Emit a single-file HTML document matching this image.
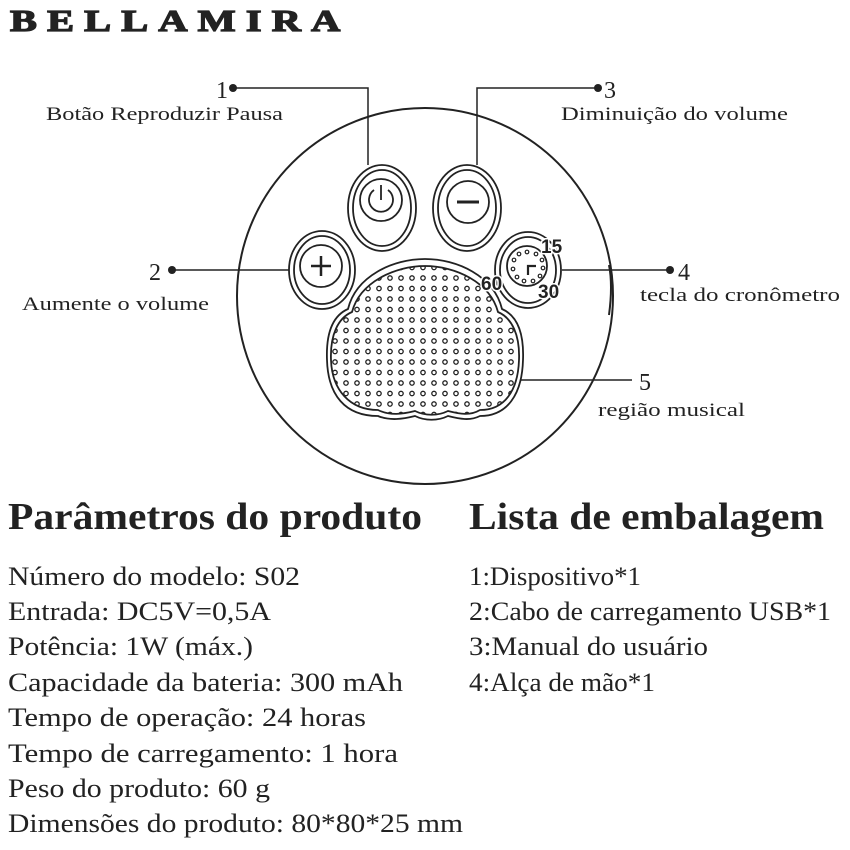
<!DOCTYPE html>
<html><head><meta charset="utf-8"><style>
html,body{margin:0;padding:0;background:#fff}
svg{display:block}
text{font-family:"Liberation Serif",serif;fill:#222}
text.sans{font-family:"Liberation Sans",sans-serif;font-weight:bold}
</style></head><body>
<svg width="850" height="850" viewBox="0 0 850 850" xmlns="http://www.w3.org/2000/svg">
<defs>
<pattern id="dots" x="0" y="0" width="11" height="10.5" patternUnits="userSpaceOnUse">
<circle cx="5" cy="5" r="2.2" fill="none" stroke="#222" stroke-width="1.3"/>
</pattern>
<clipPath id="padclip"><path id="padp" d="M352,312 C360,282 395,266 425,266 C455,266 490,282 498,312 C512,318 520,335 519,360 C518,390 505,410 480,410 C470,416 460,414 448,411 C438,416 425,416 415,411 C403,414 390,416 378,410 C350,410 332,390 331,360 C330,335 338,318 352,312 Z"/></clipPath>
</defs>
<g transform="translate(10,0) scale(1.3,1)">
<text x="0" y="31" font-size="31" font-weight="bold" textLength="254" lengthAdjust="spacing" stroke="#222" stroke-width="1.3">BELLAMIRA</text>
</g>

<circle cx="425" cy="296" r="188" fill="none" stroke="#222" stroke-width="2"/>
<path d="M609,265 Q613,285 609,315" fill="none" stroke="#222" stroke-width="2"/>

<g fill="none" stroke="#222" stroke-width="1.8">
<ellipse cx="382" cy="208" rx="34" ry="43"/>
<ellipse cx="382" cy="208" rx="29" ry="38"/>
<circle cx="381" cy="200" r="21"/>
<path d="M374,190 A12,12 0 1 0 388,190"/>
<path d="M381,185 L381,200"/>
<ellipse cx="467" cy="208" rx="34" ry="43"/>
<ellipse cx="467" cy="208" rx="29" ry="38"/>
<circle cx="468" cy="202" r="21"/>
<path d="M457,202 L479,202" stroke-width="3"/>
<ellipse cx="322" cy="270" rx="33" ry="39"/>
<ellipse cx="322" cy="270" rx="28" ry="34"/>
<circle cx="321" cy="266" r="21"/>
<path d="M311,266 L331,266 M321,256 L321,276" stroke-width="2.5"/>
<ellipse cx="528" cy="270" rx="33" ry="38"/>
<ellipse cx="528" cy="270" rx="28" ry="33"/>
<circle cx="527" cy="266" r="20"/>
<path d="M528,275 L528,266 L536,266" stroke-width="2.2"/>
<path d="M348,309 C356,276 393,259 425,259 C457,259 494,276 502,309 C518,316 524,335 523,360 C522,395 507,416 480,416 C470,421 460,419 448,416 C438,421 425,421 415,416 C403,419 390,421 378,416 C345,416 328,395 327,360 C326,335 332,316 348,309 Z"/>
<use href="#padp"/>
</g>
<g fill="none" stroke="#222" stroke-width="1.2">
<circle cx="527" cy="252" r="1.8"/><circle cx="536" cy="254" r="1.8"/><circle cx="542" cy="260" r="1.8"/><circle cx="543" cy="268" r="1.8"/><circle cx="540" cy="276" r="1.8"/><circle cx="533" cy="281" r="1.8"/><circle cx="524" cy="281" r="1.8"/><circle cx="517" cy="277" r="1.8"/><circle cx="513" cy="269" r="1.8"/><circle cx="514" cy="260" r="1.8"/><circle cx="519" cy="254" r="1.8"/>
</g>
<rect x="330" y="262" width="195" height="160" fill="url(#dots)" clip-path="url(#padclip)"/>
<text class="sans" x="541" y="253" font-size="19" fill="#fff" stroke="#fff" stroke-width="3">15</text>
<text class="sans" x="541" y="253" font-size="19">15</text>
<text class="sans" x="481" y="290" font-size="19" fill="#fff" stroke="#fff" stroke-width="3">60</text>
<text class="sans" x="481" y="290" font-size="19">60</text>
<text class="sans" x="538" y="298" font-size="19" fill="#fff" stroke="#fff" stroke-width="3">30</text>
<text class="sans" x="538" y="298" font-size="19">30</text>

<g stroke="#222" stroke-width="1.5" fill="none">
<path d="M233,88 L368,88 L368,165"/>
<path d="M598,88 L477,88 L477,165"/>
<path d="M172,270 L289,270"/>
<path d="M562,270 L670,270"/>
<path d="M521,380 L632,380"/>
</g>
<g fill="#222">
<circle cx="233" cy="88" r="4"/><circle cx="598" cy="88" r="4"/><circle cx="172" cy="270" r="4"/><circle cx="670" cy="270" r="4"/>
</g>
<g font-size="24">
<text x="216" y="98">1</text>
<text x="604" y="98">3</text>
<text x="149" y="280">2</text>
<text x="678" y="280">4</text>
<text x="639" y="390">5</text>
</g>
<g font-size="19">
<text x="46" y="120" textLength="237" lengthAdjust="spacingAndGlyphs">Botão Reproduzir Pausa</text>
<text x="561" y="120" textLength="227" lengthAdjust="spacingAndGlyphs">Diminuição do volume</text>
<text x="22" y="310" textLength="187" lengthAdjust="spacingAndGlyphs">Aumente o volume</text>
<text x="640" y="301" textLength="200" lengthAdjust="spacingAndGlyphs">tecla do cronômetro</text>
<text x="598" y="416" textLength="147" lengthAdjust="spacingAndGlyphs">região musical</text>
</g>

<g font-size="38" font-weight="bold">
<text x="8" y="529" textLength="414" lengthAdjust="spacingAndGlyphs">Parâmetros do produto</text>
<text x="469" y="529" textLength="355" lengthAdjust="spacingAndGlyphs">Lista de embalagem</text>
</g>
<g font-size="26">
<text x="8" y="585" textLength="292" lengthAdjust="spacingAndGlyphs">Número do modelo: S02</text>
<text x="8" y="620" textLength="263" lengthAdjust="spacingAndGlyphs">Entrada: DC5V=0,5A</text>
<text x="8" y="655" textLength="245" lengthAdjust="spacingAndGlyphs">Potência: 1W (máx.)</text>
<text x="8" y="691" textLength="395" lengthAdjust="spacingAndGlyphs">Capacidade da bateria: 300 mAh</text>
<text x="8" y="726" textLength="358" lengthAdjust="spacingAndGlyphs">Tempo de operação: 24 horas</text>
<text x="8" y="762" textLength="390" lengthAdjust="spacingAndGlyphs">Tempo de carregamento: 1 hora</text>
<text x="8" y="797" textLength="262" lengthAdjust="spacingAndGlyphs">Peso do produto: 60 g</text>
<text x="8" y="832" textLength="455" lengthAdjust="spacingAndGlyphs">Dimensões do produto: 80*80*25 mm</text>
<text x="469" y="585" textLength="172" lengthAdjust="spacingAndGlyphs">1:Dispositivo*1</text>
<text x="469" y="620" textLength="362" lengthAdjust="spacingAndGlyphs">2:Cabo de carregamento USB*1</text>
<text x="469" y="655" textLength="239" lengthAdjust="spacingAndGlyphs">3:Manual do usuário</text>
<text x="469" y="691" textLength="186" lengthAdjust="spacingAndGlyphs">4:Alça de mão*1</text>
</g>
</svg>
</body></html>
